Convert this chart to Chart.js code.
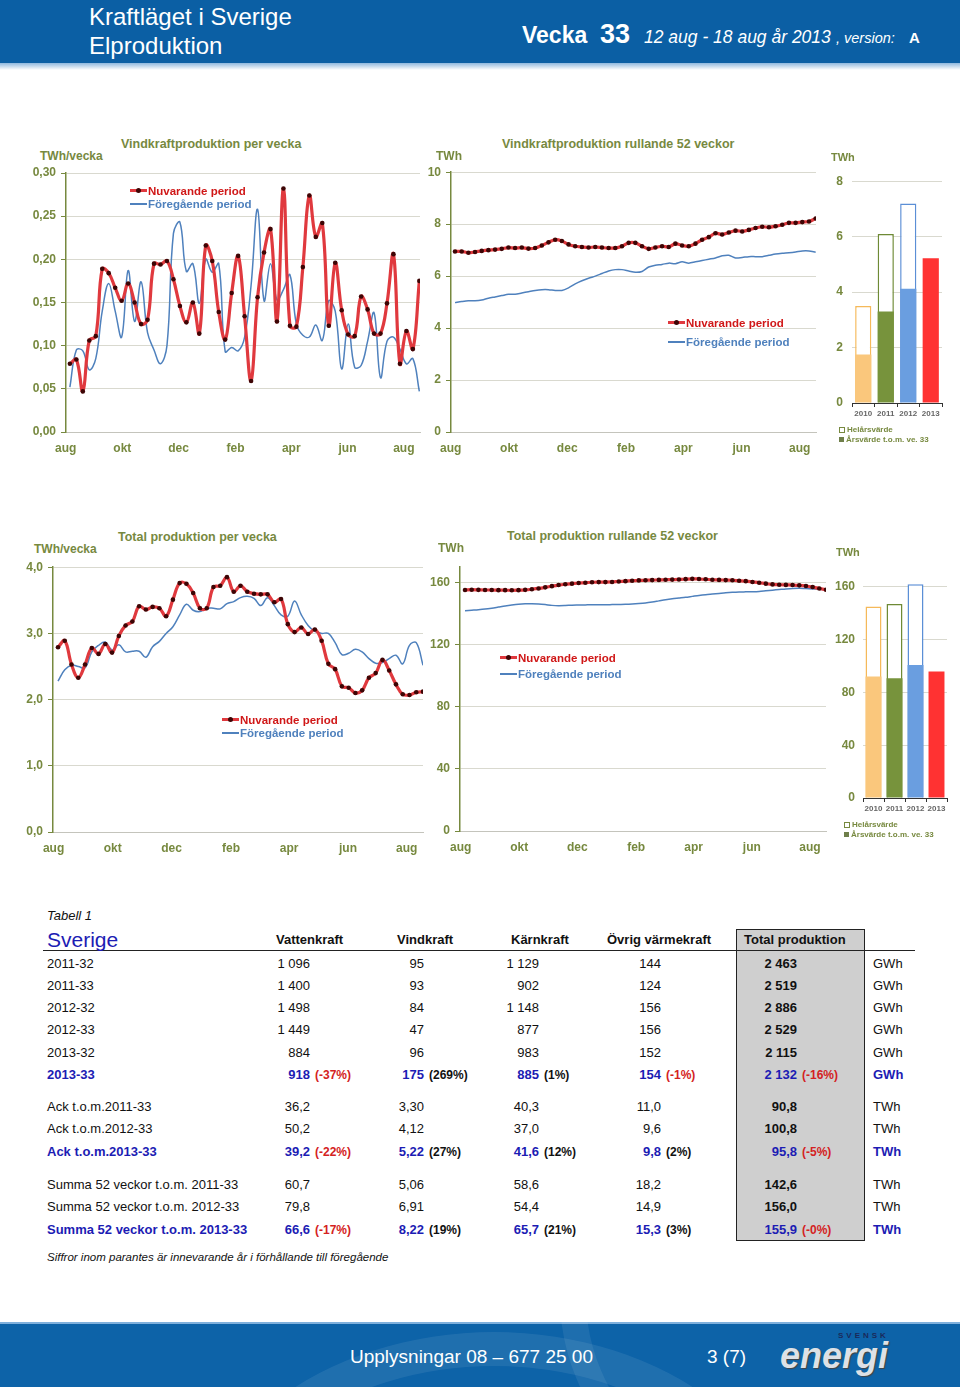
<!DOCTYPE html>
<html>
<head>
<meta charset="utf-8">
<script src="https://cdn.jsdelivr.net/npm/chart.js@4.4.0/dist/chart.umd.min.js"></script>
<style>
  body { margin: 0; background: #fff; font-family: "Liberation Sans", Arial, sans-serif; }
  #page { position: relative; width: 960px; height: 1387px; overflow: hidden; background: #fff; }
  .abs { position: absolute; white-space: nowrap; line-height: 16px; }
  .cbox { position: absolute; }
  .olive { color: #77893f; font-weight: bold; }
  .ttl { font-size: 12.5px; }
  .unit { font-size: 12px; }
  .leg { position: absolute; font-size: 11.5px; font-weight: bold; line-height: 13px; white-space: nowrap; }
  .sym { display: inline-block; width: 17px; height: 3px; vertical-align: middle; margin-right: 1px; position: relative; top: -1px; }
  .sym.red { background: #e0393e; }
  .sym.red::after { content: ""; position: absolute; left: 6px; top: -1.5px; width: 5px; height: 5px; border-radius: 50%; background: #3d0505; }
  .sym.blue { background: #4f81bd; height: 1.5px; }
  .bleg { position: absolute; font-size: 8px; font-weight: bold; color: #77893f; line-height: 10px; white-space: nowrap; }
  .sq { display: inline-block; width: 5px; height: 5px; margin-right: 2px; vertical-align: middle; }
  .tb { font-size: 13px; color: #111; }
  .blue { color: #1c1cb4; font-weight: bold; }
  .hd { position: absolute; color: #fff; white-space: nowrap; }
</style>
</head>
<body>
<div id="page">
  <!-- sidhuvud -->
  <div style="position:absolute;left:0;top:0;width:960px;height:63px;background:#0b5fa4"></div>
  <div style="position:absolute;left:0;top:63px;width:960px;height:7px;background:linear-gradient(#8fb8de,#ffffff)"></div>
  <div class="abs" style="left:89px;top:2px;color:#fff;font-size:24px;line-height:29px">Kraftläget i Sverige<br>Elproduktion</div>
  <div class="hd" style="left:522px;top:22px;font-weight:bold;font-size:23px;line-height:26px">Vecka</div>
  <div class="hd" style="left:600px;top:19px;font-weight:bold;font-size:27px;line-height:30px">33</div>
  <div class="hd" style="left:644px;top:26px;font-style:italic;font-size:17.5px;line-height:22px">12 aug - 18 aug år 2013</div>
  <div class="hd" style="left:836px;top:29px;font-style:italic;font-size:14.5px;line-height:18px">, version:</div>
  <div class="hd" style="left:909px;top:29px;font-weight:bold;font-size:15px;line-height:18px">A</div>

  <!-- rad 1 -->
  <div class="abs olive ttl" style="left:121px;top:136px">Vindkraftproduktion per vecka</div>
  <div class="abs olive unit" style="left:40px;top:148px">TWh/vecka</div>
  <div class="cbox" style="left:0;top:160px;width:430px;height:300px"><canvas id="c1"></canvas></div>
  <div class="leg" style="left:130px;top:185px">
    <div><span class="sym red"></span><span style="color:#d01818">Nuvarande period</span></div>
    <div><span class="sym blue"></span><span style="color:#4f81bd">Föregående period</span></div>
  </div>

  <div class="abs olive ttl" style="left:502px;top:136px">Vindkraftproduktion rullande 52 veckor</div>
  <div class="abs olive unit" style="left:436px;top:148px">TWh</div>
  <div class="cbox" style="left:420px;top:160px;width:410px;height:300px"><canvas id="c2"></canvas></div>
  <div class="leg" style="left:668px;top:314px;line-height:19px">
    <div><span class="sym red"></span><span style="color:#d01818">Nuvarande period</span></div>
    <div><span class="sym blue"></span><span style="color:#4f81bd">Föregående period</span></div>
  </div>

  <div class="abs olive" style="left:831px;top:149px;font-size:11px">TWh</div>
  <div class="cbox" style="left:820px;top:165px;width:140px;height:260px"><canvas id="c3"></canvas></div>
  <div class="bleg" style="left:839px;top:425px">
    <div><span class="sq" style="border:1px solid #77893f;width:4px;height:4px;background:#fff"></span>Helårsvärde</div>
    <div><span class="sq" style="background:#6f7f4a"></span>Årsvärde t.o.m. ve. 33</div>
  </div>

  <!-- rad 2 -->
  <div class="abs olive ttl" style="left:118px;top:529px">Total produktion  per vecka</div>
  <div class="abs olive unit" style="left:34px;top:541px">TWh/vecka</div>
  <div class="cbox" style="left:0;top:555px;width:430px;height:305px"><canvas id="c4"></canvas></div>
  <div class="leg" style="left:222px;top:714px">
    <div><span class="sym red"></span><span style="color:#d01818">Nuvarande period</span></div>
    <div><span class="sym blue"></span><span style="color:#4f81bd">Föregående period</span></div>
  </div>

  <div class="abs olive ttl" style="left:507px;top:528px">Total produktion  rullande 52 veckor</div>
  <div class="abs olive unit" style="left:438px;top:540px">TWh</div>
  <div class="cbox" style="left:420px;top:555px;width:410px;height:305px"><canvas id="c5"></canvas></div>
  <div class="leg" style="left:500px;top:650px;line-height:16px">
    <div><span class="sym red"></span><span style="color:#d01818">Nuvarande period</span></div>
    <div><span class="sym blue"></span><span style="color:#4f81bd">Föregående period</span></div>
  </div>

  <div class="abs olive" style="left:836px;top:544px;font-size:11px">TWh</div>
  <div class="cbox" style="left:820px;top:565px;width:140px;height:255px"><canvas id="c6"></canvas></div>
  <div class="bleg" style="left:844px;top:820px">
    <div><span class="sq" style="border:1px solid #77893f;width:4px;height:4px;background:#fff"></span>Helårsvärde</div>
    <div><span class="sq" style="background:#6f7f4a"></span>Årsvärde t.o.m. ve. 33</div>
  </div>

  <!-- tabell -->
  <div id="tbl"></div>

  <!-- sidfot -->
  <div style="position:absolute;left:0;top:1322px;width:960px;height:65px;background:#0d63a8;overflow:hidden">
    <div style="position:absolute;left:0;top:0;width:960px;height:2px;background:#7fb0dc"></div>
    <div style="position:absolute;left:180px;top:10px;width:560px;height:420px;border-radius:50%;border:34px solid rgba(255,255,255,0.08)"></div>
    <div style="position:absolute;left:560px;top:-300px;width:700px;height:500px;border-radius:50%;border:26px solid rgba(255,255,255,0.07)"></div>
  </div>
  <div class="abs" style="left:350px;top:1346px;color:#fff;font-size:19px;line-height:22px">Upplysningar 08 – 677 25 00</div>
  <div class="abs" style="left:707px;top:1346px;color:#fff;font-size:19px;line-height:22px">3 (7)</div>
  <div class="abs" style="left:838px;top:1331px;color:#1a2a5a;font-size:8px;font-weight:bold;letter-spacing:3px;line-height:10px">SVENSK</div>
  <div class="abs" style="left:780px;top:1338px;color:#dde1e6;font-size:36px;font-weight:bold;font-style:italic;line-height:36px;text-shadow:1px 1px 1px #444">energi</div>
</div>

<script>
// Vindkraft per vecka (TWh/vecka), v33 2012 - v33 2013
const windWeekCur = [0.079, 0.084, 0.047, 0.106, 0.111, 0.189, 0.184, 0.167, 0.152, 0.172,
  0.150, 0.125, 0.130, 0.195, 0.194, 0.198, 0.177, 0.146, 0.127, 0.150,
  0.114, 0.216, 0.198, 0.139, 0.107, 0.161, 0.204, 0.134, 0.059, 0.156,
  0.208, 0.235, 0.128, 0.282, 0.123, 0.122, 0.191, 0.274, 0.226, 0.242,
  0.123, 0.196, 0.141, 0.113, 0.111, 0.157, 0.142, 0.114, 0.114, 0.149,
  0.206, 0.079, 0.117, 0.096, 0.175];
const windWeekPrev = [0.052, 0.095, 0.094, 0.072, 0.085, 0.140, 0.172, 0.140, 0.110, 0.187,
  0.128, 0.174, 0.115, 0.095, 0.079, 0.100, 0.230, 0.243, 0.186, 0.195,
  0.149, 0.200, 0.185, 0.195, 0.093, 0.098, 0.094, 0.110, 0.170, 0.258,
  0.152, 0.195, 0.153, 0.165, 0.182, 0.125, 0.112, 0.110, 0.124, 0.106,
  0.152, 0.140, 0.073, 0.125, 0.075, 0.077, 0.105, 0.138, 0.063, 0.105,
  0.110, 0.096, 0.079, 0.085, 0.047];

// Vindkraft rullande 52 veckor (TWh)
const windRollCur = [6.95, 6.95, 6.90, 6.93, 6.97, 7.00, 7.02, 7.05, 7.10, 7.08,
  7.10, 7.06, 7.08, 7.18, 7.30, 7.40, 7.35, 7.22, 7.15, 7.12,
  7.10, 7.12, 7.10, 7.08, 7.08, 7.15, 7.28, 7.28, 7.15, 7.05,
  7.10, 7.15, 7.12, 7.25, 7.18, 7.15, 7.25, 7.40, 7.50, 7.65,
  7.60, 7.68, 7.75, 7.72, 7.78, 7.85, 7.90, 7.88, 7.92, 7.98,
  8.05, 8.05, 8.08, 8.10, 8.22];
const windRollPrev = [4.98, 5.02, 5.05, 5.05, 5.08, 5.15, 5.20, 5.25, 5.30, 5.30,
  5.35, 5.40, 5.45, 5.48, 5.48, 5.45, 5.45, 5.55, 5.70, 5.82,
  5.92, 6.00, 6.10, 6.20, 6.25, 6.25, 6.20, 6.15, 6.18, 6.35,
  6.42, 6.45, 6.50, 6.48, 6.55, 6.50, 6.55, 6.60, 6.65, 6.70,
  6.78, 6.80, 6.70, 6.72, 6.75, 6.75, 6.75, 6.80, 6.85, 6.88,
  6.90, 6.93, 6.97, 6.97, 6.92];

// Total produktion per vecka (TWh/vecka)
const totWeekCur = [2.79, 2.89, 2.53, 2.33, 2.53, 2.78, 2.69, 2.84, 2.71, 2.96,
  3.12, 3.18, 3.41, 3.36, 3.40, 3.38, 3.26, 3.51, 3.76, 3.75,
  3.61, 3.38, 3.38, 3.70, 3.72, 3.85, 3.63, 3.72, 3.63, 3.60,
  3.59, 3.59, 3.47, 3.52, 3.14, 3.02, 3.09, 2.99, 3.06, 2.89,
  2.54, 2.46, 2.20, 2.18, 2.10, 2.14, 2.33, 2.40, 2.60, 2.44,
  2.23, 2.08, 2.07, 2.11, 2.12];
const totWeekPrev = [2.28, 2.45, 2.52, 2.50, 2.48, 2.72, 2.82, 2.87, 2.75, 2.83,
  2.72, 2.73, 2.73, 2.64, 2.80, 2.88, 3.00, 3.10, 3.28, 3.44,
  3.35, 3.33, 3.38, 3.38, 3.37, 3.45, 3.48, 3.54, 3.56, 3.53,
  3.42, 3.54, 3.42, 3.28, 3.26, 3.49, 3.28, 3.12, 3.03, 3.00,
  3.00, 2.86, 2.68, 2.70, 2.76, 2.72, 2.62, 2.55, 2.56, 2.62,
  2.67, 2.54, 2.82, 2.86, 2.52];

// Total produktion rullande 52 veckor (TWh)
const totRollCur = [155.3, 155.5, 155.4, 155.3, 155.3, 155.2, 155.2, 155.1, 155.2, 155.4,
  155.8, 156.3, 157.0, 157.8, 158.5, 159.0, 159.4, 159.8, 160.0, 160.3,
  160.4, 160.4, 160.5, 160.8, 161.0, 161.3, 161.5, 161.6, 161.7, 161.8,
  161.9, 162.0, 162.1, 162.3, 162.5, 162.4, 162.2, 161.9, 161.8, 161.7,
  161.6, 161.3, 161.0, 160.5, 160.0, 159.4, 158.9, 158.7, 158.6, 158.5,
  158.3, 157.9, 157.2, 156.3, 155.5];
const totRollPrev = [142.0, 142.3, 142.6, 143.0, 143.6, 144.3, 145.0, 145.6, 146.1, 146.4,
  146.5, 146.3, 145.9, 145.4, 145.2, 145.3, 145.5, 145.6, 145.7, 145.8,
  145.8, 145.8, 145.9, 146.0, 146.1, 146.3, 146.6, 147.0, 147.6, 148.3,
  149.0, 149.6, 150.1, 150.6, 151.2, 151.8, 152.3, 152.7, 153.1, 153.5,
  153.8, 154.0, 154.1, 154.2, 154.4, 154.8, 155.2, 155.6, 156.0, 156.3,
  156.4, 156.2, 156.0, 155.8, 155.6];

// Månadsetiketter och deras läge i veckoindex
const monthLabels = ['aug', 'okt', 'dec', 'feb', 'apr', 'jun', 'aug'];
const monthTicks = [-0.65, 8.1, 16.8, 25.6, 34.2, 42.9, 51.6];

// Årsstaplar
const years = ['2010', '2011', '2012', '2013'];
const windYearFull = [3.5, 6.1, 7.2, null];
const windYearYtd = [1.75, 3.30, 4.12, 5.22];
const totYearFull = [145, 147, 162, null];
const totYearYtd = [92, 90.8, 100.8, 95.8];
const yearFill = ['#fac77c', '#77933c', '#6a9ee0', '#ff3232'];
const yearEdge = ['#f5b95a', '#6e8a35', '#5b8fd6', '#ff3232'];

// y-axlarnas tickar
const ticksWindWeek = [0, 0.05, 0.10, 0.15, 0.20, 0.25, 0.30];
const ticksWindRoll = [0, 2, 4, 6, 8, 10];
const ticksWindYear = [0, 2, 4, 6, 8];
const ticksTotWeek = [0, 1, 2, 3, 4];
const ticksTotRoll = [0, 40, 80, 120, 160];
const ticksTotYear = [0, 40, 80, 120, 160];

// Tabell 1
const weekLabels = ['2011-32', '2011-33', '2012-32', '2012-33', '2013-32', '2013-33'];
const weekVatten = [1096, 1400, 1498, 1449, 884, 918];
const weekVind = [95, 93, 84, 47, 96, 175];
const weekKarn = [1129, 902, 1148, 877, 983, 885];
const weekOvrig = [144, 124, 156, 156, 152, 154];
const weekTotal = [2463, 2519, 2886, 2529, 2115, 2132];
const weekPct = ['-37%', '269%', '1%', '-1%', '-16%'];

const ackLabels = ['Ack t.o.m.2011-33', 'Ack t.o.m.2012-33', 'Ack t.o.m.2013-33'];
const ackVatten = [36.2, 50.2, 39.2];
const ackVind = [3.30, 4.12, 5.22];
const ackKarn = [40.3, 37.0, 41.6];
const ackOvrig = [11.0, 9.6, 9.8];
const ackTotal = [90.8, 100.8, 95.8];
const ackPct = ['-22%', '27%', '12%', '2%', '-5%'];

const sumLabels = ['Summa 52 veckor t.o.m. 2011-33', 'Summa 52 veckor t.o.m. 2012-33', 'Summa 52 veckor t.o.m. 2013-33'];
const sumVatten = [60.7, 79.8, 66.6];
const sumVind = [5.06, 6.91, 8.22];
const sumKarn = [58.6, 54.4, 65.7];
const sumOvrig = [18.2, 14.9, 15.3];
const sumTotal = [142.6, 156.0, 155.9];
const sumPct = ['-17%', '19%', '21%', '3%', '-0%'];

const OLIVE = '#77893f';
const GRID = '#d9d9cf';

function sv(v, dec) {
  const s = v.toFixed(dec).split('.');
  const int = s[0].replace(/\B(?=(\d{3})+(?!\d))/g, ' ');
  return s.length > 1 ? int + ',' + s[1] : int;
}

function lineChart(id, cur, prev, o) {
  return new Chart(document.getElementById(id), {
    type: 'line',
    data: {
      datasets: [
        {
          data: cur.map((v, i) => ({ x: i, y: v })),
          borderColor: '#e0393e', borderWidth: 3.2,
          pointRadius: 2.3, pointBackgroundColor: '#3d0505', pointBorderWidth: 0,
          tension: o.tension, order: 1
        },
        {
          data: prev.map((v, i) => ({ x: i, y: v })),
          borderColor: '#4f81bd', borderWidth: 1.5, pointRadius: 0,
          tension: o.tension, order: 2
        }
      ]
    },
    options: {
      responsive: true, maintainAspectRatio: false, animation: false,
      layout: { padding: { top: o.pt, right: o.pr, left: 0, bottom: 0 } },
      plugins: { legend: { display: false }, tooltip: { enabled: false } },
      scales: {
        x: {
          type: 'linear', min: o.xmin, max: o.xmax,
          afterBuildTicks: s => { s.ticks = monthTicks.map(v => ({ value: v })); },
          ticks: { callback: (v, i) => monthLabels[i], color: OLIVE, font: { size: 12, weight: 'bold' }, padding: 1, maxRotation: 0, autoSkip: false },
          grid: { display: false },
          border: { color: '#c4c4bc', width: 1 },
          afterFit: s => { s.height = o.xh; }
        },
        y: {
          min: 0, max: o.ymax,
          afterBuildTicks: s => { s.ticks = o.yticks.map(v => ({ value: v })); },
          ticks: { callback: v => sv(v, o.dec), color: OLIVE, font: { size: 12, weight: 'bold' }, padding: 5 },
          grid: { color: GRID, tickColor: OLIVE, tickLength: 5 },
          border: { color: OLIVE, width: 1.5 },
          afterFit: s => { s.width = o.yw; }
        }
      }
    }
  });
}

function yearChart(id, full, ytd, o) {
  return new Chart(document.getElementById(id), {
    type: 'bar',
    data: {
      labels: years,
      datasets: [
        {
          data: ytd, backgroundColor: yearFill, borderWidth: 0,
          grouped: false, order: 1, barPercentage: o.bp, categoryPercentage: 1
        },
        {
          data: full, backgroundColor: '#ffffff', borderColor: yearEdge, borderWidth: 1.5,
          grouped: false, order: 2, barPercentage: o.bp, categoryPercentage: 1
        }
      ]
    },
    options: {
      responsive: true, maintainAspectRatio: false, animation: false,
      layout: { padding: { top: o.pt, right: o.pr, left: 0, bottom: 0 } },
      plugins: { legend: { display: false }, tooltip: { enabled: false } },
      scales: {
        x: {
          ticks: { color: '#666', font: { size: 8, weight: 'bold' }, padding: 2, maxRotation: 0 },
          grid: { display: true, drawOnChartArea: false, offset: true, tickLength: 4, color: '#333' },
          border: { color: '#333', width: 1 },
          afterFit: s => { s.height = 22; }
        },
        y: {
          min: 0, max: o.ymax,
          afterBuildTicks: s => { s.ticks = o.yticks.map(v => ({ value: v })); },
          ticks: { color: OLIVE, font: { size: 12, weight: 'bold' }, padding: o.ypad },
          grid: { color: GRID, drawTicks: false },
          border: { display: false },
          afterFit: s => { s.width = o.yw; }
        }
      }
    }
  });
}

lineChart('c1', windWeekCur, windWeekPrev, { pt: 13, pr: 10, yw: 66, xh: 28, xmin: -0.6, xmax: 54.1, ymax: 0.30, yticks: ticksWindWeek, dec: 2, tension: 0.4 });
lineChart('c2', windRollCur, windRollPrev, { pt: 12, pr: 14, yw: 31, xh: 28, xmin: -0.6, xmax: 54.05, ymax: 10, yticks: ticksWindRoll, dec: 0, tension: 0.3 });
yearChart('c3', windYearFull, windYearYtd, { pt: 9, pr: 18, yw: 32, ypad: 9, ymax: 8, yticks: ticksWindYear, bp: 0.72 });
lineChart('c4', totWeekCur, totWeekPrev, { pt: 10, pr: 7, yw: 53, xh: 28, xmin: -0.74, xmax: 54.0, ymax: 4, yticks: ticksTotWeek, dec: 1, tension: 0.4 });
lineChart('c5', totRollCur, totRollPrev, { pt: 10, pr: 4, yw: 40, xh: 29, xmin: -0.75, xmax: 54.0, ymax: 170, yticks: ticksTotRoll, dec: 0, tension: 0.3 });
yearChart('c6', totYearFull, totYearYtd, { pt: 11, pr: 13, yw: 43, ypad: 8, ymax: 165, yticks: ticksTotYear, bp: 0.76 });

// tabellen byggs som text
const tbl = document.getElementById('tbl');
function put(x, y, html, cls, style, alignRight) {
  const d = document.createElement('div');
  d.className = 'abs tb ' + (cls || '');
  d.innerHTML = html;
  d.style.top = (y - 8) + 'px';
  if (alignRight) d.style.right = (960 - x) + 'px'; else d.style.left = x + 'px';
  if (style) d.style.cssText += style;
  tbl.appendChild(d);
}
// grå ruta för total produktion
const box = document.createElement('div');
box.style.cssText = 'position:absolute;left:736px;top:929px;width:127px;height:310px;background:#cfcfcf;border:1px solid #222';
tbl.appendChild(box);
const rule = document.createElement('div');
rule.style.cssText = 'position:absolute;left:43px;top:950px;width:872px;height:0;border-top:1.5px solid #222';
tbl.appendChild(rule);

put(47, 916, 'Tabell 1', '', 'font-style:italic;font-size:13px');
put(47, 941, 'Sverige', '', 'color:#1c1cb4;font-size:21px;line-height:22px;top:929px');
const heads = [['Vattenkraft', 276], ['Vindkraft', 397], ['Kärnkraft', 511], ['Övrig värmekraft', 607], ['Total produktion', 744]];
heads.forEach(h => put(h[1], 940, h[0], '', 'font-weight:bold'));

const colRight = [310, 424, 539, 661, 797];

function group(labels, cols, decs, pct, unit, ys) {
  labels.forEach((lab, r) => {
    const last = r === labels.length - 1;
    const y = ys[r];
    put(47, y, lab, last ? 'blue' : '');
    cols.forEach((col, c) => {
      const isTot = c === cols.length - 1;
      put(colRight[c], y, sv(col[r], decs[c]), last ? 'blue' : '', isTot && !last ? 'font-weight:bold' : '', true);
      if (last) {
        const p = pct[c];
        const neg = p.charAt(0) === '-';
        put(colRight[c] + 5, y, '(' + p + ')', '', 'font-weight:bold;font-size:12px;color:' + (neg ? '#d42222' : '#111'));
      }
    });
    put(873, y, unit, last ? 'blue' : '');
  });
}

group(weekLabels, [weekVatten, weekVind, weekKarn, weekOvrig, weekTotal], [0, 0, 0, 0, 0], weekPct, 'GWh', [964, 986, 1008, 1030, 1053, 1075]);
group(ackLabels, [ackVatten, ackVind, ackKarn, ackOvrig, ackTotal], [1, 2, 1, 1, 1], ackPct, 'TWh', [1107, 1129, 1152]);
group(sumLabels, [sumVatten, sumVind, sumKarn, sumOvrig, sumTotal], [1, 2, 1, 1, 1], sumPct, 'TWh', [1185, 1207, 1230]);
put(47, 1257, 'Siffror inom parantes är innevarande år i förhållande till föregående', '', 'font-style:italic;font-size:11.5px');
</script>
</body>
</html>
